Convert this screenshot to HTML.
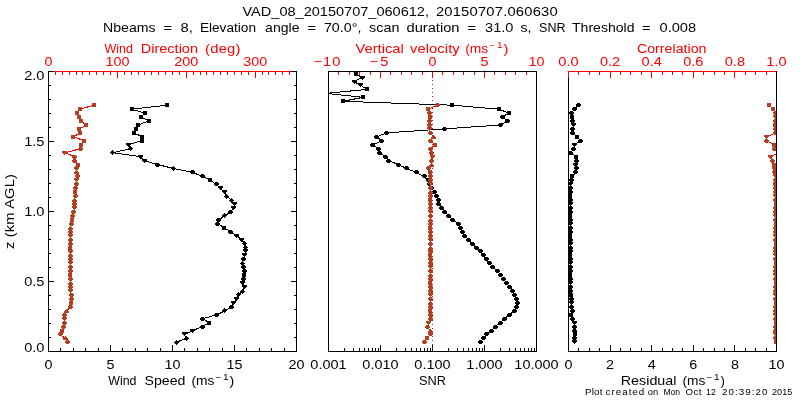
<!DOCTYPE html>
<html><head><meta charset="utf-8"><title>VAD plot</title>
<style>html,body{margin:0;padding:0;background:#fff}svg{display:block}text{font-family:"Liberation Sans",sans-serif;white-space:pre}</style>
</head><body>
<svg width="800" height="400" viewBox="0 0 800 400" shape-rendering="crispEdges">
<rect width="800" height="400" fill="#fff"/>
<rect x="48" y="71" width="249" height="1" fill="#ff0000"/>
<rect x="48" y="351" width="249" height="1" fill="#000000"/>
<rect x="328" y="71" width="209" height="1" fill="#000000"/>
<rect x="328" y="351" width="209" height="1" fill="#000000"/>
<rect x="568" y="71" width="209" height="1" fill="#ff0000"/>
<rect x="568" y="351" width="209" height="1" fill="#000000"/>
<rect x="48" y="71" width="1" height="4" fill="#ff0000"/><rect x="55" y="71" width="1" height="4" fill="#ff0000"/><rect x="62" y="71" width="1" height="4" fill="#ff0000"/><rect x="69" y="71" width="1" height="4" fill="#ff0000"/><rect x="76" y="71" width="1" height="4" fill="#ff0000"/><rect x="82" y="71" width="1" height="4" fill="#ff0000"/><rect x="89" y="71" width="1" height="4" fill="#ff0000"/><rect x="96" y="71" width="1" height="4" fill="#ff0000"/><rect x="103" y="71" width="1" height="4" fill="#ff0000"/><rect x="110" y="71" width="1" height="4" fill="#ff0000"/><rect x="117" y="71" width="1" height="4" fill="#ff0000"/><rect x="124" y="71" width="1" height="4" fill="#ff0000"/><rect x="131" y="71" width="1" height="4" fill="#ff0000"/><rect x="138" y="71" width="1" height="4" fill="#ff0000"/><rect x="144" y="71" width="1" height="4" fill="#ff0000"/><rect x="151" y="71" width="1" height="4" fill="#ff0000"/><rect x="158" y="71" width="1" height="4" fill="#ff0000"/><rect x="165" y="71" width="1" height="4" fill="#ff0000"/><rect x="172" y="71" width="1" height="4" fill="#ff0000"/><rect x="179" y="71" width="1" height="4" fill="#ff0000"/><rect x="186" y="71" width="1" height="4" fill="#ff0000"/><rect x="193" y="71" width="1" height="4" fill="#ff0000"/><rect x="200" y="71" width="1" height="4" fill="#ff0000"/><rect x="206" y="71" width="1" height="4" fill="#ff0000"/><rect x="213" y="71" width="1" height="4" fill="#ff0000"/><rect x="220" y="71" width="1" height="4" fill="#ff0000"/><rect x="227" y="71" width="1" height="4" fill="#ff0000"/><rect x="234" y="71" width="1" height="4" fill="#ff0000"/><rect x="241" y="71" width="1" height="4" fill="#ff0000"/><rect x="248" y="71" width="1" height="4" fill="#ff0000"/><rect x="255" y="71" width="1" height="4" fill="#ff0000"/><rect x="262" y="71" width="1" height="4" fill="#ff0000"/><rect x="268" y="71" width="1" height="4" fill="#ff0000"/><rect x="275" y="71" width="1" height="4" fill="#ff0000"/><rect x="282" y="71" width="1" height="4" fill="#ff0000"/><rect x="289" y="71" width="1" height="4" fill="#ff0000"/><rect x="296" y="71" width="1" height="4" fill="#ff0000"/><rect x="48" y="71" width="1" height="7" fill="#ff0000"/><rect x="117" y="71" width="1" height="7" fill="#ff0000"/><rect x="186" y="71" width="1" height="7" fill="#ff0000"/><rect x="255" y="71" width="1" height="7" fill="#ff0000"/>
<rect x="328" y="71" width="1" height="4" fill="#ff0000"/><rect x="338" y="71" width="1" height="4" fill="#ff0000"/><rect x="349" y="71" width="1" height="4" fill="#ff0000"/><rect x="359" y="71" width="1" height="4" fill="#ff0000"/><rect x="370" y="71" width="1" height="4" fill="#ff0000"/><rect x="380" y="71" width="1" height="4" fill="#ff0000"/><rect x="390" y="71" width="1" height="4" fill="#ff0000"/><rect x="401" y="71" width="1" height="4" fill="#ff0000"/><rect x="411" y="71" width="1" height="4" fill="#ff0000"/><rect x="422" y="71" width="1" height="4" fill="#ff0000"/><rect x="432" y="71" width="1" height="4" fill="#ff0000"/><rect x="442" y="71" width="1" height="4" fill="#ff0000"/><rect x="453" y="71" width="1" height="4" fill="#ff0000"/><rect x="463" y="71" width="1" height="4" fill="#ff0000"/><rect x="474" y="71" width="1" height="4" fill="#ff0000"/><rect x="484" y="71" width="1" height="4" fill="#ff0000"/><rect x="494" y="71" width="1" height="4" fill="#ff0000"/><rect x="505" y="71" width="1" height="4" fill="#ff0000"/><rect x="515" y="71" width="1" height="4" fill="#ff0000"/><rect x="526" y="71" width="1" height="4" fill="#ff0000"/><rect x="536" y="71" width="1" height="4" fill="#ff0000"/><rect x="328" y="71" width="1" height="7" fill="#ff0000"/><rect x="380" y="71" width="1" height="7" fill="#ff0000"/><rect x="432" y="71" width="1" height="7" fill="#ff0000"/><rect x="484" y="71" width="1" height="7" fill="#ff0000"/><rect x="536" y="71" width="1" height="7" fill="#ff0000"/>
<rect x="568" y="71" width="1" height="4" fill="#ff0000"/><rect x="578" y="71" width="1" height="4" fill="#ff0000"/><rect x="589" y="71" width="1" height="4" fill="#ff0000"/><rect x="599" y="71" width="1" height="4" fill="#ff0000"/><rect x="610" y="71" width="1" height="4" fill="#ff0000"/><rect x="620" y="71" width="1" height="4" fill="#ff0000"/><rect x="630" y="71" width="1" height="4" fill="#ff0000"/><rect x="641" y="71" width="1" height="4" fill="#ff0000"/><rect x="651" y="71" width="1" height="4" fill="#ff0000"/><rect x="662" y="71" width="1" height="4" fill="#ff0000"/><rect x="672" y="71" width="1" height="4" fill="#ff0000"/><rect x="682" y="71" width="1" height="4" fill="#ff0000"/><rect x="693" y="71" width="1" height="4" fill="#ff0000"/><rect x="703" y="71" width="1" height="4" fill="#ff0000"/><rect x="714" y="71" width="1" height="4" fill="#ff0000"/><rect x="724" y="71" width="1" height="4" fill="#ff0000"/><rect x="734" y="71" width="1" height="4" fill="#ff0000"/><rect x="745" y="71" width="1" height="4" fill="#ff0000"/><rect x="755" y="71" width="1" height="4" fill="#ff0000"/><rect x="766" y="71" width="1" height="4" fill="#ff0000"/><rect x="776" y="71" width="1" height="4" fill="#ff0000"/><rect x="568" y="71" width="1" height="7" fill="#ff0000"/><rect x="610" y="71" width="1" height="7" fill="#ff0000"/><rect x="651" y="71" width="1" height="7" fill="#ff0000"/><rect x="693" y="71" width="1" height="7" fill="#ff0000"/><rect x="734" y="71" width="1" height="7" fill="#ff0000"/><rect x="776" y="71" width="1" height="7" fill="#ff0000"/>
<rect x="48" y="348" width="1" height="4" fill="#000000"/><rect x="60" y="348" width="1" height="4" fill="#000000"/><rect x="73" y="348" width="1" height="4" fill="#000000"/><rect x="85" y="348" width="1" height="4" fill="#000000"/><rect x="98" y="348" width="1" height="4" fill="#000000"/><rect x="110" y="348" width="1" height="4" fill="#000000"/><rect x="122" y="348" width="1" height="4" fill="#000000"/><rect x="135" y="348" width="1" height="4" fill="#000000"/><rect x="147" y="348" width="1" height="4" fill="#000000"/><rect x="160" y="348" width="1" height="4" fill="#000000"/><rect x="172" y="348" width="1" height="4" fill="#000000"/><rect x="184" y="348" width="1" height="4" fill="#000000"/><rect x="197" y="348" width="1" height="4" fill="#000000"/><rect x="209" y="348" width="1" height="4" fill="#000000"/><rect x="222" y="348" width="1" height="4" fill="#000000"/><rect x="234" y="348" width="1" height="4" fill="#000000"/><rect x="246" y="348" width="1" height="4" fill="#000000"/><rect x="259" y="348" width="1" height="4" fill="#000000"/><rect x="271" y="348" width="1" height="4" fill="#000000"/><rect x="284" y="348" width="1" height="4" fill="#000000"/><rect x="296" y="348" width="1" height="4" fill="#000000"/><rect x="48" y="345" width="1" height="7" fill="#000000"/><rect x="110" y="345" width="1" height="7" fill="#000000"/><rect x="172" y="345" width="1" height="7" fill="#000000"/><rect x="234" y="345" width="1" height="7" fill="#000000"/><rect x="296" y="345" width="1" height="7" fill="#000000"/>
<rect x="344" y="348" width="1" height="4" fill="#000000"/><rect x="353" y="348" width="1" height="4" fill="#000000"/><rect x="359" y="348" width="1" height="4" fill="#000000"/><rect x="364" y="348" width="1" height="4" fill="#000000"/><rect x="368" y="348" width="1" height="4" fill="#000000"/><rect x="372" y="348" width="1" height="4" fill="#000000"/><rect x="375" y="348" width="1" height="4" fill="#000000"/><rect x="378" y="348" width="1" height="4" fill="#000000"/><rect x="396" y="348" width="1" height="4" fill="#000000"/><rect x="405" y="348" width="1" height="4" fill="#000000"/><rect x="411" y="348" width="1" height="4" fill="#000000"/><rect x="416" y="348" width="1" height="4" fill="#000000"/><rect x="420" y="348" width="1" height="4" fill="#000000"/><rect x="424" y="348" width="1" height="4" fill="#000000"/><rect x="427" y="348" width="1" height="4" fill="#000000"/><rect x="430" y="348" width="1" height="4" fill="#000000"/><rect x="448" y="348" width="1" height="4" fill="#000000"/><rect x="457" y="348" width="1" height="4" fill="#000000"/><rect x="463" y="348" width="1" height="4" fill="#000000"/><rect x="468" y="348" width="1" height="4" fill="#000000"/><rect x="472" y="348" width="1" height="4" fill="#000000"/><rect x="476" y="348" width="1" height="4" fill="#000000"/><rect x="479" y="348" width="1" height="4" fill="#000000"/><rect x="482" y="348" width="1" height="4" fill="#000000"/><rect x="500" y="348" width="1" height="4" fill="#000000"/><rect x="509" y="348" width="1" height="4" fill="#000000"/><rect x="515" y="348" width="1" height="4" fill="#000000"/><rect x="520" y="348" width="1" height="4" fill="#000000"/><rect x="524" y="348" width="1" height="4" fill="#000000"/><rect x="528" y="348" width="1" height="4" fill="#000000"/><rect x="531" y="348" width="1" height="4" fill="#000000"/><rect x="534" y="348" width="1" height="4" fill="#000000"/><rect x="328" y="345" width="1" height="7" fill="#000000"/><rect x="380" y="345" width="1" height="7" fill="#000000"/><rect x="432" y="345" width="1" height="7" fill="#000000"/><rect x="484" y="345" width="1" height="7" fill="#000000"/><rect x="536" y="345" width="1" height="7" fill="#000000"/>
<rect x="568" y="348" width="1" height="4" fill="#000000"/><rect x="578" y="348" width="1" height="4" fill="#000000"/><rect x="589" y="348" width="1" height="4" fill="#000000"/><rect x="599" y="348" width="1" height="4" fill="#000000"/><rect x="610" y="348" width="1" height="4" fill="#000000"/><rect x="620" y="348" width="1" height="4" fill="#000000"/><rect x="630" y="348" width="1" height="4" fill="#000000"/><rect x="641" y="348" width="1" height="4" fill="#000000"/><rect x="651" y="348" width="1" height="4" fill="#000000"/><rect x="662" y="348" width="1" height="4" fill="#000000"/><rect x="672" y="348" width="1" height="4" fill="#000000"/><rect x="682" y="348" width="1" height="4" fill="#000000"/><rect x="693" y="348" width="1" height="4" fill="#000000"/><rect x="703" y="348" width="1" height="4" fill="#000000"/><rect x="714" y="348" width="1" height="4" fill="#000000"/><rect x="724" y="348" width="1" height="4" fill="#000000"/><rect x="734" y="348" width="1" height="4" fill="#000000"/><rect x="745" y="348" width="1" height="4" fill="#000000"/><rect x="755" y="348" width="1" height="4" fill="#000000"/><rect x="766" y="348" width="1" height="4" fill="#000000"/><rect x="776" y="348" width="1" height="4" fill="#000000"/><rect x="568" y="345" width="1" height="7" fill="#000000"/><rect x="610" y="345" width="1" height="7" fill="#000000"/><rect x="651" y="345" width="1" height="7" fill="#000000"/><rect x="693" y="345" width="1" height="7" fill="#000000"/><rect x="734" y="345" width="1" height="7" fill="#000000"/><rect x="776" y="345" width="1" height="7" fill="#000000"/>
<rect x="48" y="71" width="1" height="281" fill="#000000"/>
<rect x="296" y="71" width="1" height="281" fill="#000000"/>
<rect x="328" y="71" width="1" height="281" fill="#000000"/>
<rect x="536" y="71" width="1" height="281" fill="#000000"/>
<rect x="568" y="71" width="1" height="281" fill="#000000"/>
<rect x="776" y="71" width="1" height="281" fill="#000000"/>
<rect x="328" y="71" width="209" height="1" fill="#000000"/>
<rect x="568" y="71" width="1" height="7" fill="#ff0000"/>
<rect x="48" y="351" width="6" height="1" fill="#000000"/>
<rect x="291" y="351" width="6" height="1" fill="#000000"/>
<rect x="48" y="337" width="3" height="1" fill="#000000"/>
<rect x="294" y="337" width="3" height="1" fill="#000000"/>
<rect x="48" y="323" width="3" height="1" fill="#000000"/>
<rect x="294" y="323" width="3" height="1" fill="#000000"/>
<rect x="48" y="309" width="3" height="1" fill="#000000"/>
<rect x="294" y="309" width="3" height="1" fill="#000000"/>
<rect x="48" y="295" width="3" height="1" fill="#000000"/>
<rect x="294" y="295" width="3" height="1" fill="#000000"/>
<rect x="48" y="281" width="6" height="1" fill="#000000"/>
<rect x="291" y="281" width="6" height="1" fill="#000000"/>
<rect x="48" y="267" width="3" height="1" fill="#000000"/>
<rect x="294" y="267" width="3" height="1" fill="#000000"/>
<rect x="48" y="253" width="3" height="1" fill="#000000"/>
<rect x="294" y="253" width="3" height="1" fill="#000000"/>
<rect x="48" y="239" width="3" height="1" fill="#000000"/>
<rect x="294" y="239" width="3" height="1" fill="#000000"/>
<rect x="48" y="225" width="3" height="1" fill="#000000"/>
<rect x="294" y="225" width="3" height="1" fill="#000000"/>
<rect x="48" y="211" width="6" height="1" fill="#000000"/>
<rect x="291" y="211" width="6" height="1" fill="#000000"/>
<rect x="48" y="197" width="3" height="1" fill="#000000"/>
<rect x="294" y="197" width="3" height="1" fill="#000000"/>
<rect x="48" y="183" width="3" height="1" fill="#000000"/>
<rect x="294" y="183" width="3" height="1" fill="#000000"/>
<rect x="48" y="169" width="3" height="1" fill="#000000"/>
<rect x="294" y="169" width="3" height="1" fill="#000000"/>
<rect x="48" y="155" width="3" height="1" fill="#000000"/>
<rect x="294" y="155" width="3" height="1" fill="#000000"/>
<rect x="48" y="141" width="6" height="1" fill="#000000"/>
<rect x="291" y="141" width="6" height="1" fill="#000000"/>
<rect x="48" y="127" width="3" height="1" fill="#000000"/>
<rect x="294" y="127" width="3" height="1" fill="#000000"/>
<rect x="48" y="113" width="3" height="1" fill="#000000"/>
<rect x="294" y="113" width="3" height="1" fill="#000000"/>
<rect x="48" y="99" width="3" height="1" fill="#000000"/>
<rect x="294" y="99" width="3" height="1" fill="#000000"/>
<rect x="48" y="85" width="3" height="1" fill="#000000"/>
<rect x="294" y="85" width="3" height="1" fill="#000000"/>
<rect x="48" y="71" width="6" height="1" fill="#000000"/>
<rect x="291" y="71" width="6" height="1" fill="#000000"/>
<defs><clipPath id="c2"><rect x="328" y="71" width="209" height="281"/></clipPath><clipPath id="c3"><rect x="568" y="71" width="209" height="281"/></clipPath></defs>
<polyline points="94.0,105.2 79.6,109.2 77.2,113.1 79.0,117.1 80.6,121.0 86.4,125.0 79.4,128.9 80.0,132.9 73.4,136.8 84.4,140.8 80.6,144.7 80.6,148.7 65.0,152.7 74.4,156.6 74.4,160.6 78.0,164.5 76.0,168.5 76.9,172.4 77.3,176.4 76.8,180.3 76.3,184.3 75.7,188.2 75.4,192.2 75.1,196.1 74.8,200.1 74.6,204.0 74.2,208.0 73.8,212.0 72.9,215.9 72.0,219.9 71.2,223.8 70.5,227.8 70.2,231.7 70.0,235.7 70.3,239.6 70.5,243.6 70.5,247.5 70.5,251.5 70.5,255.4 70.5,259.4 70.2,263.3 70.0,267.3 70.2,271.2 70.3,275.2 70.5,279.2 70.6,283.1 70.8,287.1 70.9,291.0 71.1,295.0 71.4,298.9 71.2,302.9 70.5,306.8 67.0,310.8 65.0,314.7 64.0,318.7 64.0,322.6 63.1,326.6 62.0,330.5 60.0,334.5 65.5,338.4 67.5,342.4" fill="none" stroke="#ff0000" stroke-width="1"/>
<path d="M92 103h4v1h-4zM92 104h4v1h-4zM92 105h4v1h-4zM92 106h4v1h-4zM78 107h4v1h-4zM78 108h4v1h-4zM78 109h4v1h-4zM78 110h4v1h-4zM75 111h4v1h-4zM75 112h4v1h-4zM75 113h4v1h-4zM75 114h4v1h-4zM77 115h4v1h-4zM77 116h4v1h-4zM77 117h4v1h-4zM77 118h4v1h-4zM79 119h4v1h-4zM79 120h4v1h-4zM79 121h4v1h-4zM79 122h4v1h-4zM84 123h4v1h-4zM84 124h4v1h-4zM84 125h4v1h-4zM84 126h4v1h-4zM77 127h4v1h-4zM77 128h4v1h-4zM77 129h4v1h-4zM77 130h4v1h-4zM78 131h4v1h-4zM78 132h4v1h-4zM78 133h4v1h-4zM78 134h4v1h-4zM71 135h4v1h-4zM71 136h4v1h-4zM71 137h4v1h-4zM71 138h4v1h-4zM82 139h4v1h-4zM82 140h4v1h-4zM82 141h4v1h-4zM82 142h4v1h-4zM79 143h4v1h-4zM79 144h4v1h-4zM79 145h4v1h-4zM79 146h4v1h-4zM79 147h3v1h-3zM78 148h5v1h-5zM78 149h5v1h-5zM79 150h3v1h-3zM62 151h5v1h-5zM62 152h5v1h-5zM63 153h3v1h-3zM64 154h1v1h-1zM73 155h3v1h-3zM72 156h5v1h-5zM72 157h5v1h-5zM73 158h3v1h-3zM73 159h3v1h-3zM72 160h5v1h-5zM72 161h5v1h-5zM73 162h3v1h-3zM76 163h4v1h-4zM76 164h4v1h-4zM76 165h4v1h-4zM76 166h4v1h-4zM75 166h3v1h-3zM74 167h5v1h-5zM74 168h5v1h-5zM75 169h3v1h-3zM76 170h1v1h-1zM75 171h3v1h-3zM74 172h5v1h-5zM74 173h5v1h-5zM76 174h3v1h-3zM75 175h5v1h-5zM75 176h5v1h-5zM76 177h3v1h-3zM74 178h5v1h-5zM74 179h5v1h-5zM75 180h3v1h-3zM76 181h1v1h-1zM75 182h3v1h-3zM74 183h5v1h-5zM74 184h5v1h-5zM75 185h3v1h-3zM74 186h3v1h-3zM73 187h5v1h-5zM73 188h5v1h-5zM74 189h3v1h-3zM73 190h4v1h-4zM73 191h4v1h-4zM73 192h4v1h-4zM73 193h4v1h-4zM74 194h3v1h-3zM73 195h5v1h-5zM73 196h5v1h-5zM74 197h3v1h-3zM74 198h1v1h-1zM73 199h3v1h-3zM72 200h5v1h-5zM72 201h5v1h-5zM73 202h3v1h-3zM72 203h5v1h-5zM72 204h5v1h-5zM73 205h3v1h-3zM72 206h5v1h-5zM72 207h5v1h-5zM73 208h3v1h-3zM74 209h1v1h-1zM72 210h3v1h-3zM71 211h5v1h-5zM71 212h5v1h-5zM72 213h3v1h-3zM71 214h3v1h-3zM70 215h5v1h-5zM70 216h5v1h-5zM71 217h3v1h-3zM70 218h4v1h-4zM70 219h4v1h-4zM70 220h4v1h-4zM70 221h4v1h-4zM70 222h3v1h-3zM69 223h5v1h-5zM69 224h5v1h-5zM70 225h3v1h-3zM70 226h1v1h-1zM69 227h3v1h-3zM68 228h5v1h-5zM68 229h5v1h-5zM69 230h3v1h-3zM68 231h5v1h-5zM68 232h5v1h-5zM69 233h3v1h-3zM68 234h5v1h-5zM68 235h5v1h-5zM69 236h3v1h-3zM70 237h1v1h-1zM69 238h3v1h-3zM68 239h5v1h-5zM68 240h5v1h-5zM69 241h3v1h-3zM69 242h3v1h-3zM68 243h5v1h-5zM68 244h5v1h-5zM69 245h3v1h-3zM68 246h4v1h-4zM68 247h4v1h-4zM68 248h4v1h-4zM68 249h4v1h-4zM69 249h3v1h-3zM68 250h5v1h-5zM68 251h5v1h-5zM69 252h3v1h-3zM70 253h1v1h-1zM69 254h3v1h-3zM68 255h5v1h-5zM68 256h5v1h-5zM69 257h3v1h-3zM68 258h5v1h-5zM68 259h5v1h-5zM69 260h3v1h-3zM68 261h5v1h-5zM68 262h5v1h-5zM69 263h3v1h-3zM70 264h1v1h-1zM69 265h3v1h-3zM68 266h5v1h-5zM68 267h5v1h-5zM69 268h3v1h-3zM69 269h3v1h-3zM68 270h5v1h-5zM68 271h5v1h-5zM69 272h3v1h-3zM68 273h4v1h-4zM68 274h4v1h-4zM68 275h4v1h-4zM68 276h4v1h-4zM69 277h3v1h-3zM68 278h5v1h-5zM68 279h5v1h-5zM69 280h3v1h-3zM70 281h1v1h-1zM69 282h3v1h-3zM68 283h5v1h-5zM68 284h5v1h-5zM69 285h3v1h-3zM68 286h5v1h-5zM68 287h5v1h-5zM69 288h3v1h-3zM68 289h5v1h-5zM68 290h5v1h-5zM69 291h3v1h-3zM70 292h1v1h-1zM70 293h3v1h-3zM69 294h5v1h-5zM69 295h5v1h-5zM70 296h3v1h-3zM70 297h3v1h-3zM69 298h5v1h-5zM69 299h5v1h-5zM70 300h3v1h-3zM69 301h4v1h-4zM69 302h4v1h-4zM69 303h4v1h-4zM69 304h4v1h-4zM69 305h3v1h-3zM68 306h5v1h-5zM68 307h5v1h-5zM69 308h3v1h-3zM66 309h1v1h-1zM65 310h3v1h-3zM64 311h5v1h-5zM64 312h5v1h-5zM63 313h3v1h-3zM62 314h5v1h-5zM62 315h5v1h-5zM63 316h3v1h-3zM62 317h5v1h-5zM62 318h5v1h-5zM63 319h3v1h-3zM64 320h1v1h-1zM63 321h3v1h-3zM62 322h5v1h-5zM62 323h5v1h-5zM63 324h3v1h-3zM62 325h3v1h-3zM61 326h5v1h-5zM61 327h5v1h-5zM62 328h3v1h-3zM60 329h4v1h-4zM60 330h4v1h-4zM60 331h4v1h-4zM60 332h4v1h-4zM59 332h3v1h-3zM58 333h5v1h-5zM58 334h5v1h-5zM59 335h3v1h-3zM65 336h1v1h-1zM64 337h3v1h-3zM63 338h5v1h-5zM63 339h5v1h-5zM66 340h3v1h-3zM65 341h5v1h-5zM65 342h5v1h-5zM66 343h3v1h-3z" fill="#b04020"/>
<polyline points="166.8,105.2 131.6,109.2 144.8,113.1 141.2,117.1 148.6,121.0 138.0,125.0 136.0,128.9 134.0,132.9 142.4,136.8 141.6,140.8 128.0,144.7 131.0,148.7 112.4,152.7 140.0,156.6 144.4,160.6 157.4,164.5 173.4,168.5 192.4,172.4 202.6,176.4 210.4,180.3 216.0,184.3 220.0,188.2 224.0,192.2 227.0,196.1 231.4,200.1 235.0,204.0 233.4,208.0 231.0,212.0 224.0,215.9 219.0,219.9 217.8,223.8 224.5,227.8 230.4,231.7 237.0,235.7 241.6,239.6 244.4,243.6 245.6,247.5 245.6,251.5 244.4,255.4 243.6,259.4 242.4,263.3 243.6,267.3 244.4,271.2 244.4,275.2 243.6,279.2 243.0,283.1 244.0,287.1 242.4,291.0 238.3,295.0 236.6,298.9 233.6,302.9 231.4,306.8 225.0,310.8 217.0,314.7 203.0,318.7 209.0,322.6 202.4,326.6 193.0,330.5 184.4,334.5 186.0,338.4 176.0,342.4" fill="none" stroke="#000000" stroke-width="1"/>
<path d="M165 103h4v1h-4zM165 104h4v1h-4zM165 105h4v1h-4zM165 106h4v1h-4zM130 107h4v1h-4zM130 108h4v1h-4zM130 109h4v1h-4zM130 110h4v1h-4zM143 111h4v1h-4zM143 112h4v1h-4zM143 113h4v1h-4zM143 114h4v1h-4zM139 115h4v1h-4zM139 116h4v1h-4zM139 117h4v1h-4zM139 118h4v1h-4zM147 119h4v1h-4zM147 120h4v1h-4zM147 121h4v1h-4zM147 122h4v1h-4zM136 123h4v1h-4zM136 124h4v1h-4zM136 125h4v1h-4zM136 126h4v1h-4zM134 127h4v1h-4zM134 128h4v1h-4zM134 129h4v1h-4zM134 130h4v1h-4zM132 131h4v1h-4zM132 132h4v1h-4zM132 133h4v1h-4zM132 134h4v1h-4zM140 135h4v1h-4zM140 136h4v1h-4zM140 137h4v1h-4zM140 138h4v1h-4zM140 139h4v1h-4zM140 140h4v1h-4zM140 141h4v1h-4zM140 142h4v1h-4zM126 143h5v1h-5zM126 144h5v1h-5zM127 145h3v1h-3zM128 146h1v1h-1zM130 146h1v1h-1zM129 147h3v1h-3zM128 148h5v1h-5zM129 149h3v1h-3zM130 150h1v1h-1zM112 150h1v1h-1zM111 151h3v1h-3zM110 152h5v1h-5zM111 153h3v1h-3zM112 154h1v1h-1zM138 155h5v1h-5zM138 156h5v1h-5zM139 157h3v1h-3zM140 158h1v1h-1zM142 159h5v1h-5zM142 160h5v1h-5zM143 161h3v1h-3zM144 162h1v1h-1zM156 163h3v1h-3zM155 164h5v1h-5zM155 165h5v1h-5zM156 166h3v1h-3zM173 166h1v1h-1zM172 167h3v1h-3zM171 168h5v1h-5zM172 169h3v1h-3zM173 170h1v1h-1zM191 170h3v1h-3zM190 171h5v1h-5zM190 172h5v1h-5zM191 173h3v1h-3zM201 174h3v1h-3zM200 175h5v1h-5zM200 176h5v1h-5zM201 177h3v1h-3zM208 178h4v1h-4zM208 179h4v1h-4zM208 180h4v1h-4zM208 181h4v1h-4zM215 182h3v1h-3zM214 183h5v1h-5zM214 184h5v1h-5zM215 185h3v1h-3zM218 186h5v1h-5zM218 187h5v1h-5zM219 188h3v1h-3zM220 189h1v1h-1zM222 190h5v1h-5zM222 191h5v1h-5zM223 192h3v1h-3zM224 193h1v1h-1zM226 194h1v1h-1zM225 195h3v1h-3zM224 196h5v1h-5zM225 197h3v1h-3zM226 198h1v1h-1zM231 198h1v1h-1zM230 199h3v1h-3zM229 200h5v1h-5zM230 201h3v1h-3zM231 202h1v1h-1zM232 202h5v1h-5zM232 203h5v1h-5zM233 204h3v1h-3zM234 205h1v1h-1zM231 206h5v1h-5zM231 207h5v1h-5zM232 208h3v1h-3zM233 209h1v1h-1zM229 210h3v1h-3zM228 211h5v1h-5zM228 212h5v1h-5zM229 213h3v1h-3zM224 213h1v1h-1zM223 214h3v1h-3zM222 215h5v1h-5zM223 216h3v1h-3zM224 217h1v1h-1zM217 218h3v1h-3zM216 219h5v1h-5zM216 220h5v1h-5zM217 221h3v1h-3zM216 222h3v1h-3zM215 223h5v1h-5zM215 224h5v1h-5zM216 225h3v1h-3zM222 226h4v1h-4zM222 227h4v1h-4zM222 228h4v1h-4zM222 229h4v1h-4zM229 230h3v1h-3zM228 231h5v1h-5zM228 232h5v1h-5zM229 233h3v1h-3zM234 234h5v1h-5zM234 235h5v1h-5zM235 236h3v1h-3zM236 237h1v1h-1zM239 238h5v1h-5zM239 239h5v1h-5zM240 240h3v1h-3zM241 241h1v1h-1zM244 241h1v1h-1zM243 242h3v1h-3zM242 243h5v1h-5zM243 244h3v1h-3zM244 245h1v1h-1zM245 245h1v1h-1zM244 246h3v1h-3zM243 247h5v1h-5zM244 248h3v1h-3zM245 249h1v1h-1zM243 249h5v1h-5zM243 250h5v1h-5zM244 251h3v1h-3zM245 252h1v1h-1zM242 253h5v1h-5zM242 254h5v1h-5zM243 255h3v1h-3zM244 256h1v1h-1zM242 257h3v1h-3zM241 258h5v1h-5zM241 259h5v1h-5zM242 260h3v1h-3zM242 261h1v1h-1zM241 262h3v1h-3zM240 263h5v1h-5zM241 264h3v1h-3zM242 265h1v1h-1zM242 265h3v1h-3zM241 266h5v1h-5zM241 267h5v1h-5zM242 268h3v1h-3zM243 269h3v1h-3zM242 270h5v1h-5zM242 271h5v1h-5zM243 272h3v1h-3zM242 273h4v1h-4zM242 274h4v1h-4zM242 275h4v1h-4zM242 276h4v1h-4zM242 277h3v1h-3zM241 278h5v1h-5zM241 279h5v1h-5zM242 280h3v1h-3zM240 281h5v1h-5zM240 282h5v1h-5zM241 283h3v1h-3zM242 284h1v1h-1zM242 285h5v1h-5zM242 286h5v1h-5zM243 287h3v1h-3zM244 288h1v1h-1zM242 289h1v1h-1zM241 290h3v1h-3zM240 291h5v1h-5zM241 292h3v1h-3zM242 293h1v1h-1zM238 292h1v1h-1zM237 293h3v1h-3zM236 294h5v1h-5zM237 295h3v1h-3zM238 296h1v1h-1zM234 297h5v1h-5zM234 298h5v1h-5zM235 299h3v1h-3zM236 300h1v1h-1zM231 301h5v1h-5zM231 302h5v1h-5zM232 303h3v1h-3zM233 304h1v1h-1zM230 305h3v1h-3zM229 306h5v1h-5zM229 307h5v1h-5zM230 308h3v1h-3zM224 308h1v1h-1zM223 309h3v1h-3zM222 310h5v1h-5zM223 311h3v1h-3zM224 312h1v1h-1zM215 313h3v1h-3zM214 314h5v1h-5zM214 315h5v1h-5zM215 316h3v1h-3zM201 317h3v1h-3zM200 318h5v1h-5zM200 319h5v1h-5zM201 320h3v1h-3zM207 321h4v1h-4zM207 322h4v1h-4zM207 323h4v1h-4zM207 324h4v1h-4zM201 325h3v1h-3zM200 326h5v1h-5zM200 327h5v1h-5zM201 328h3v1h-3zM190 329h5v1h-5zM190 330h5v1h-5zM191 331h3v1h-3zM192 332h1v1h-1zM182 332h5v1h-5zM182 333h5v1h-5zM183 334h3v1h-3zM184 335h1v1h-1zM186 336h1v1h-1zM185 337h3v1h-3zM184 338h5v1h-5zM185 339h3v1h-3zM186 340h1v1h-1zM176 340h1v1h-1zM175 341h3v1h-3zM174 342h5v1h-5zM175 343h3v1h-3zM176 344h1v1h-1z" fill="#000000"/>
<path d="M432 72h1v1h-1zM432 76h1v1h-1zM432 80h1v1h-1zM432 84h1v1h-1zM432 88h1v1h-1zM432 92h1v1h-1zM432 96h1v1h-1zM432 100h1v1h-1zM432 104h1v1h-1zM432 108h1v1h-1zM432 112h1v1h-1zM432 116h1v1h-1zM432 120h1v1h-1zM432 124h1v1h-1zM432 128h1v1h-1zM432 132h1v1h-1zM432 136h1v1h-1zM432 140h1v1h-1zM432 144h1v1h-1zM432 148h1v1h-1zM432 152h1v1h-1zM432 156h1v1h-1zM432 160h1v1h-1zM432 164h1v1h-1zM432 168h1v1h-1zM432 172h1v1h-1zM432 176h1v1h-1zM432 180h1v1h-1zM432 184h1v1h-1zM432 188h1v1h-1zM432 192h1v1h-1zM432 196h1v1h-1zM432 200h1v1h-1zM432 204h1v1h-1zM432 208h1v1h-1zM432 212h1v1h-1zM432 216h1v1h-1zM432 220h1v1h-1zM432 224h1v1h-1zM432 228h1v1h-1zM432 232h1v1h-1zM432 236h1v1h-1zM432 240h1v1h-1zM432 244h1v1h-1zM432 248h1v1h-1zM432 252h1v1h-1zM432 256h1v1h-1zM432 260h1v1h-1zM432 264h1v1h-1zM432 268h1v1h-1zM432 272h1v1h-1zM432 276h1v1h-1zM432 280h1v1h-1zM432 284h1v1h-1zM432 288h1v1h-1zM432 292h1v1h-1zM432 296h1v1h-1zM432 300h1v1h-1zM432 304h1v1h-1zM432 308h1v1h-1zM432 312h1v1h-1zM432 316h1v1h-1zM432 320h1v1h-1zM432 324h1v1h-1zM432 328h1v1h-1zM432 332h1v1h-1zM432 336h1v1h-1zM432 340h1v1h-1zM432 344h1v1h-1zM432 348h1v1h-1z" fill="#ff0000"/>
<polyline points="355.6,73.6 362.0,77.5 354.0,81.5 361.0,85.5 367.0,89.4 326.0,93.4 363.0,97.3 343.0,101.3 452.0,105.2 499.0,109.2 508.6,113.1 502.4,117.1 507.6,121.0 500.6,125.0 444.0,128.9 386.4,132.9 377.0,136.8 381.6,140.8 373.0,144.7 378.0,148.7 379.6,152.7 385.6,156.6 389.0,160.6 398.0,164.5 406.6,168.5 416.0,172.4 424.0,176.4 428.0,180.3 429.5,184.3 431.5,188.2 434.4,192.2 437.0,196.1 438.0,200.1 439.0,204.0 441.6,208.0 445.0,212.0 448.4,215.9 453.0,219.9 458.0,223.8 461.0,227.8 463.0,231.7 465.0,235.7 468.0,239.6 472.0,243.6 476.0,247.5 480.0,251.5 483.6,255.4 486.4,259.4 489.6,263.3 493.0,267.3 497.9,271.2 500.8,275.2 503.7,279.2 506.6,283.1 509.7,287.1 513.0,291.0 515.0,295.0 516.6,298.9 517.5,302.9 517.0,306.8 515.0,310.8 509.0,314.7 505.0,318.7 500.0,322.6 495.5,326.6 491.2,330.5 487.0,334.5 483.0,338.4 480.0,342.4" fill="none" stroke="#000000" stroke-width="1" clip-path="url(#c2)"/>
<g clip-path="url(#c2)"><path d="M354 72h4v1h-4zM354 73h4v1h-4zM354 74h4v1h-4zM354 75h4v1h-4zM360 76h5v1h-5zM360 77h5v1h-5zM361 78h3v1h-3zM362 79h1v1h-1zM352 80h5v1h-5zM352 81h5v1h-5zM353 82h3v1h-3zM354 83h1v1h-1zM358 83h5v1h-5zM358 84h5v1h-5zM359 85h3v1h-3zM360 86h1v1h-1zM365 87h4v1h-4zM365 88h4v1h-4zM365 89h4v1h-4zM365 90h4v1h-4zM324 91h4v1h-4zM324 92h4v1h-4zM324 93h4v1h-4zM324 94h4v1h-4zM361 95h4v1h-4zM361 96h4v1h-4zM361 97h4v1h-4zM361 98h4v1h-4zM341 99h4v1h-4zM341 100h4v1h-4zM341 101h4v1h-4zM341 102h4v1h-4zM450 103h4v1h-4zM450 104h4v1h-4zM450 105h4v1h-4zM450 106h4v1h-4zM497 107h4v1h-4zM497 108h4v1h-4zM497 109h4v1h-4zM497 110h4v1h-4zM507 111h4v1h-4zM507 112h4v1h-4zM507 113h4v1h-4zM507 114h4v1h-4zM501 115h3v1h-3zM500 116h5v1h-5zM500 117h5v1h-5zM501 118h3v1h-3zM506 119h3v1h-3zM505 120h5v1h-5zM505 121h5v1h-5zM506 122h3v1h-3zM499 123h3v1h-3zM498 124h5v1h-5zM498 125h5v1h-5zM499 126h3v1h-3zM443 127h3v1h-3zM442 128h5v1h-5zM442 129h5v1h-5zM443 130h3v1h-3zM385 131h3v1h-3zM384 132h5v1h-5zM384 133h5v1h-5zM385 134h3v1h-3zM375 135h3v1h-3zM374 136h5v1h-5zM374 137h5v1h-5zM375 138h3v1h-3zM380 139h3v1h-3zM379 140h5v1h-5zM379 141h5v1h-5zM380 142h3v1h-3zM371 143h3v1h-3zM370 144h5v1h-5zM370 145h5v1h-5zM371 146h3v1h-3zM377 147h3v1h-3zM376 148h5v1h-5zM376 149h5v1h-5zM377 150h3v1h-3zM378 151h3v1h-3zM377 152h5v1h-5zM377 153h5v1h-5zM378 154h3v1h-3zM384 155h3v1h-3zM383 156h5v1h-5zM383 157h5v1h-5zM384 158h3v1h-3zM387 159h3v1h-3zM386 160h5v1h-5zM386 161h5v1h-5zM387 162h3v1h-3zM397 163h3v1h-3zM396 164h5v1h-5zM396 165h5v1h-5zM397 166h3v1h-3zM405 166h3v1h-3zM404 167h5v1h-5zM404 168h5v1h-5zM405 169h3v1h-3zM415 170h3v1h-3zM414 171h5v1h-5zM414 172h5v1h-5zM415 173h3v1h-3zM423 174h3v1h-3zM422 175h5v1h-5zM422 176h5v1h-5zM423 177h3v1h-3zM427 178h3v1h-3zM426 179h5v1h-5zM426 180h5v1h-5zM427 181h3v1h-3zM428 182h3v1h-3zM427 183h5v1h-5zM427 184h5v1h-5zM428 185h3v1h-3zM430 186h3v1h-3zM429 187h5v1h-5zM429 188h5v1h-5zM430 189h3v1h-3zM433 190h3v1h-3zM432 191h5v1h-5zM432 192h5v1h-5zM433 193h3v1h-3zM435 194h3v1h-3zM434 195h5v1h-5zM434 196h5v1h-5zM435 197h3v1h-3zM437 198h3v1h-3zM436 199h5v1h-5zM436 200h5v1h-5zM437 201h3v1h-3zM437 202h3v1h-3zM436 203h5v1h-5zM436 204h5v1h-5zM437 205h3v1h-3zM440 206h3v1h-3zM439 207h5v1h-5zM439 208h5v1h-5zM440 209h3v1h-3zM443 210h3v1h-3zM442 211h5v1h-5zM442 212h5v1h-5zM443 213h3v1h-3zM447 214h3v1h-3zM446 215h5v1h-5zM446 216h5v1h-5zM447 217h3v1h-3zM451 218h3v1h-3zM450 219h5v1h-5zM450 220h5v1h-5zM451 221h3v1h-3zM457 222h3v1h-3zM456 223h5v1h-5zM456 224h5v1h-5zM457 225h3v1h-3zM459 226h3v1h-3zM458 227h5v1h-5zM458 228h5v1h-5zM459 229h3v1h-3zM461 230h3v1h-3zM460 231h5v1h-5zM460 232h5v1h-5zM461 233h3v1h-3zM463 234h3v1h-3zM462 235h5v1h-5zM462 236h5v1h-5zM463 237h3v1h-3zM467 238h3v1h-3zM466 239h5v1h-5zM466 240h5v1h-5zM467 241h3v1h-3zM471 242h3v1h-3zM470 243h5v1h-5zM470 244h5v1h-5zM471 245h3v1h-3zM475 246h3v1h-3zM474 247h5v1h-5zM474 248h5v1h-5zM475 249h3v1h-3zM479 249h3v1h-3zM478 250h5v1h-5zM478 251h5v1h-5zM479 252h3v1h-3zM482 253h3v1h-3zM481 254h5v1h-5zM481 255h5v1h-5zM482 256h3v1h-3zM485 257h3v1h-3zM484 258h5v1h-5zM484 259h5v1h-5zM485 260h3v1h-3zM488 261h3v1h-3zM487 262h5v1h-5zM487 263h5v1h-5zM488 264h3v1h-3zM491 265h3v1h-3zM490 266h5v1h-5zM490 267h5v1h-5zM491 268h3v1h-3zM496 269h3v1h-3zM495 270h5v1h-5zM495 271h5v1h-5zM496 272h3v1h-3zM499 273h3v1h-3zM498 274h5v1h-5zM498 275h5v1h-5zM499 276h3v1h-3zM502 277h3v1h-3zM501 278h5v1h-5zM501 279h5v1h-5zM502 280h3v1h-3zM505 281h3v1h-3zM504 282h5v1h-5zM504 283h5v1h-5zM505 284h3v1h-3zM508 285h3v1h-3zM507 286h5v1h-5zM507 287h5v1h-5zM508 288h3v1h-3zM511 289h3v1h-3zM510 290h5v1h-5zM510 291h5v1h-5zM511 292h3v1h-3zM513 293h3v1h-3zM512 294h5v1h-5zM512 295h5v1h-5zM513 296h3v1h-3zM515 297h3v1h-3zM514 298h5v1h-5zM514 299h5v1h-5zM515 300h3v1h-3zM516 301h3v1h-3zM515 302h5v1h-5zM515 303h5v1h-5zM516 304h3v1h-3zM515 305h3v1h-3zM514 306h5v1h-5zM514 307h5v1h-5zM515 308h3v1h-3zM513 309h3v1h-3zM512 310h5v1h-5zM512 311h5v1h-5zM513 312h3v1h-3zM508 313h3v1h-3zM507 314h5v1h-5zM507 315h5v1h-5zM508 316h3v1h-3zM503 317h3v1h-3zM502 318h5v1h-5zM502 319h5v1h-5zM503 320h3v1h-3zM499 321h3v1h-3zM498 322h5v1h-5zM498 323h5v1h-5zM499 324h3v1h-3zM494 325h3v1h-3zM493 326h5v1h-5zM493 327h5v1h-5zM494 328h3v1h-3zM490 329h3v1h-3zM489 330h5v1h-5zM489 331h5v1h-5zM490 332h3v1h-3zM485 332h3v1h-3zM484 333h5v1h-5zM484 334h5v1h-5zM485 335h3v1h-3zM482 336h3v1h-3zM481 337h5v1h-5zM481 338h5v1h-5zM482 339h3v1h-3zM479 340h3v1h-3zM478 341h5v1h-5zM478 342h5v1h-5zM479 343h3v1h-3z" fill="#000000"/></g>
<polyline points="437.5,105.2 428.0,109.2 429.7,113.1 429.7,117.1 429.7,121.0 429.7,125.0 429.8,128.9 430.0,132.9 433.8,136.8 430.0,140.8 435.0,144.7 430.6,148.7 431.2,152.7 432.5,156.6 431.5,160.6 431.2,164.5 428.8,168.5 430.0,172.4 430.0,176.4 430.3,180.3 430.3,184.3 430.3,188.2 430.3,192.2 430.3,196.1 430.3,200.1 430.3,204.0 430.3,208.0 430.3,212.0 430.3,215.9 430.3,219.9 430.3,223.8 430.3,227.8 430.3,231.7 430.3,235.7 430.3,239.6 430.3,243.6 430.3,247.5 430.3,251.5 430.3,255.4 430.3,259.4 430.3,263.3 430.3,267.3 430.4,271.2 430.4,275.2 430.4,279.2 430.4,283.1 430.4,287.1 430.5,291.0 430.5,295.0 430.5,298.9 430.5,302.9 430.5,306.8 430.5,310.8 430.5,314.7 430.5,318.7 428.8,322.6 427.6,326.6 430.0,330.5 431.0,334.5 426.6,338.4 425.0,342.4" fill="none" stroke="#ff0000" stroke-width="1"/>
<path d="M436 103h3v1h-3zM435 104h5v1h-5zM435 105h5v1h-5zM436 106h3v1h-3zM426 107h4v1h-4zM426 108h4v1h-4zM426 109h4v1h-4zM426 110h4v1h-4zM428 111h3v1h-3zM427 112h5v1h-5zM427 113h5v1h-5zM428 114h3v1h-3zM428 115h4v1h-4zM428 116h4v1h-4zM428 117h4v1h-4zM428 118h4v1h-4zM428 119h3v1h-3zM427 120h5v1h-5zM427 121h5v1h-5zM428 122h3v1h-3zM428 123h3v1h-3zM427 124h5v1h-5zM427 125h5v1h-5zM428 126h3v1h-3zM427 127h5v1h-5zM427 128h5v1h-5zM428 129h3v1h-3zM429 130h1v1h-1zM429 131h3v1h-3zM428 132h5v1h-5zM428 133h5v1h-5zM429 134h3v1h-3zM433 135h1v1h-1zM432 136h3v1h-3zM431 137h5v1h-5zM431 138h5v1h-5zM429 139h3v1h-3zM428 140h5v1h-5zM428 141h5v1h-5zM429 142h3v1h-3zM433 143h4v1h-4zM433 144h4v1h-4zM433 145h4v1h-4zM433 146h4v1h-4zM429 147h3v1h-3zM428 148h5v1h-5zM428 149h5v1h-5zM429 150h3v1h-3zM430 151h3v1h-3zM429 152h5v1h-5zM429 153h5v1h-5zM430 154h3v1h-3zM430 155h5v1h-5zM430 156h5v1h-5zM431 157h3v1h-3zM432 158h1v1h-1zM430 159h3v1h-3zM429 160h5v1h-5zM429 161h5v1h-5zM430 162h3v1h-3zM431 163h1v1h-1zM430 164h3v1h-3zM429 165h5v1h-5zM429 166h5v1h-5zM427 166h3v1h-3zM426 167h5v1h-5zM426 168h5v1h-5zM427 169h3v1h-3zM428 170h4v1h-4zM428 171h4v1h-4zM428 172h4v1h-4zM428 173h4v1h-4zM429 174h3v1h-3zM428 175h5v1h-5zM428 176h5v1h-5zM429 177h3v1h-3zM429 178h3v1h-3zM428 179h5v1h-5zM428 180h5v1h-5zM429 181h3v1h-3zM428 182h5v1h-5zM428 183h5v1h-5zM429 184h3v1h-3zM430 185h1v1h-1zM429 186h3v1h-3zM428 187h5v1h-5zM428 188h5v1h-5zM429 189h3v1h-3zM430 190h1v1h-1zM429 191h3v1h-3zM428 192h5v1h-5zM428 193h5v1h-5zM429 194h3v1h-3zM428 195h5v1h-5zM428 196h5v1h-5zM429 197h3v1h-3zM428 198h4v1h-4zM428 199h4v1h-4zM428 200h4v1h-4zM428 201h4v1h-4zM429 202h3v1h-3zM428 203h5v1h-5zM428 204h5v1h-5zM429 205h3v1h-3zM429 206h3v1h-3zM428 207h5v1h-5zM428 208h5v1h-5zM429 209h3v1h-3zM428 210h5v1h-5zM428 211h5v1h-5zM429 212h3v1h-3zM430 213h1v1h-1zM429 214h3v1h-3zM428 215h5v1h-5zM428 216h5v1h-5zM429 217h3v1h-3zM430 218h1v1h-1zM429 219h3v1h-3zM428 220h5v1h-5zM428 221h5v1h-5zM429 222h3v1h-3zM428 223h5v1h-5zM428 224h5v1h-5zM429 225h3v1h-3zM428 226h4v1h-4zM428 227h4v1h-4zM428 228h4v1h-4zM428 229h4v1h-4zM429 230h3v1h-3zM428 231h5v1h-5zM428 232h5v1h-5zM429 233h3v1h-3zM429 234h3v1h-3zM428 235h5v1h-5zM428 236h5v1h-5zM429 237h3v1h-3zM428 238h5v1h-5zM428 239h5v1h-5zM429 240h3v1h-3zM430 241h1v1h-1zM429 242h3v1h-3zM428 243h5v1h-5zM428 244h5v1h-5zM429 245h3v1h-3zM430 246h1v1h-1zM429 247h3v1h-3zM428 248h5v1h-5zM428 249h5v1h-5zM429 249h3v1h-3zM428 250h5v1h-5zM428 251h5v1h-5zM429 252h3v1h-3zM428 253h4v1h-4zM428 254h4v1h-4zM428 255h4v1h-4zM428 256h4v1h-4zM429 257h3v1h-3zM428 258h5v1h-5zM428 259h5v1h-5zM429 260h3v1h-3zM429 261h3v1h-3zM428 262h5v1h-5zM428 263h5v1h-5zM429 264h3v1h-3zM428 265h5v1h-5zM428 266h5v1h-5zM429 267h3v1h-3zM430 268h1v1h-1zM429 269h3v1h-3zM428 270h5v1h-5zM428 271h5v1h-5zM429 272h3v1h-3zM430 273h1v1h-1zM429 274h3v1h-3zM428 275h5v1h-5zM428 276h5v1h-5zM429 277h3v1h-3zM428 278h5v1h-5zM428 279h5v1h-5zM429 280h3v1h-3zM428 281h4v1h-4zM428 282h4v1h-4zM428 283h4v1h-4zM428 284h4v1h-4zM429 285h3v1h-3zM428 286h5v1h-5zM428 287h5v1h-5zM429 288h3v1h-3zM429 289h3v1h-3zM428 290h5v1h-5zM428 291h5v1h-5zM429 292h3v1h-3zM428 293h5v1h-5zM428 294h5v1h-5zM429 295h3v1h-3zM430 296h1v1h-1zM429 297h3v1h-3zM428 298h5v1h-5zM428 299h5v1h-5zM429 300h3v1h-3zM430 301h1v1h-1zM429 302h3v1h-3zM428 303h5v1h-5zM428 304h5v1h-5zM429 305h3v1h-3zM428 306h5v1h-5zM428 307h5v1h-5zM429 308h3v1h-3zM428 309h4v1h-4zM428 310h4v1h-4zM428 311h4v1h-4zM428 312h4v1h-4zM429 313h3v1h-3zM428 314h5v1h-5zM428 315h5v1h-5zM429 316h3v1h-3zM429 317h3v1h-3zM428 318h5v1h-5zM428 319h5v1h-5zM429 320h3v1h-3zM426 321h5v1h-5zM426 322h5v1h-5zM427 323h3v1h-3zM428 324h1v1h-1zM426 325h3v1h-3zM425 326h5v1h-5zM425 327h5v1h-5zM426 328h3v1h-3zM430 329h1v1h-1zM429 330h3v1h-3zM428 331h5v1h-5zM428 332h5v1h-5zM429 332h3v1h-3zM428 333h5v1h-5zM428 334h5v1h-5zM429 335h3v1h-3zM425 336h4v1h-4zM425 337h4v1h-4zM425 338h4v1h-4zM425 339h4v1h-4zM423 340h3v1h-3zM422 341h5v1h-5zM422 342h5v1h-5zM423 343h3v1h-3z" fill="#b04020"/>
<polyline points="578.0,105.2 574.5,109.2 571.2,113.1 572.0,117.1 573.0,121.0 573.8,125.0 572.5,128.9 572.5,132.9 577.0,136.8 580.5,140.8 574.5,144.7 573.8,148.7 570.5,152.7 576.2,156.6 576.2,160.6 575.5,164.5 576.2,168.5 575.5,172.4 572.5,176.4 571.2,180.3 570.5,184.3 570.5,188.2 570.5,192.2 570.5,196.1 570.5,200.1 570.5,204.0 570.5,208.0 570.5,212.0 570.5,215.9 570.5,219.9 570.5,223.8 570.5,227.8 570.5,231.7 570.4,235.7 570.4,239.6 570.4,243.6 570.4,247.5 570.4,251.5 570.4,255.4 570.4,259.4 570.4,263.3 570.4,267.3 570.4,271.2 570.5,275.2 570.5,279.2 570.6,283.1 570.7,287.1 570.8,291.0 570.9,295.0 571.0,298.9 571.1,302.9 571.2,306.8 573.0,310.8 570.8,314.7 572.9,318.7 574.0,322.6 574.4,326.6 574.6,330.5 574.6,334.5 574.3,338.4 574.0,342.4" fill="none" stroke="#000000" stroke-width="1"/>
<path d="M577 103h3v1h-3zM576 104h5v1h-5zM576 105h5v1h-5zM577 106h3v1h-3zM573 107h3v1h-3zM572 108h5v1h-5zM572 109h5v1h-5zM573 110h3v1h-3zM570 111h3v1h-3zM569 112h5v1h-5zM569 113h5v1h-5zM570 114h3v1h-3zM570 115h4v1h-4zM570 116h4v1h-4zM570 117h4v1h-4zM570 118h4v1h-4zM571 119h3v1h-3zM570 120h5v1h-5zM570 121h5v1h-5zM571 122h3v1h-3zM571 123h5v1h-5zM571 124h5v1h-5zM572 125h3v1h-3zM573 126h1v1h-1zM571 127h3v1h-3zM570 128h5v1h-5zM570 129h5v1h-5zM571 130h3v1h-3zM571 131h3v1h-3zM570 132h5v1h-5zM570 133h5v1h-5zM571 134h3v1h-3zM575 135h4v1h-4zM575 136h4v1h-4zM575 137h4v1h-4zM575 138h4v1h-4zM579 139h3v1h-3zM578 140h5v1h-5zM578 141h5v1h-5zM579 142h3v1h-3zM572 143h5v1h-5zM572 144h5v1h-5zM573 145h3v1h-3zM574 146h1v1h-1zM572 147h3v1h-3zM571 148h5v1h-5zM571 149h5v1h-5zM572 150h3v1h-3zM569 151h3v1h-3zM568 152h5v1h-5zM568 153h5v1h-5zM569 154h3v1h-3zM574 155h4v1h-4zM574 156h4v1h-4zM574 157h4v1h-4zM574 158h4v1h-4zM575 159h3v1h-3zM574 160h5v1h-5zM574 161h5v1h-5zM575 162h3v1h-3zM573 163h5v1h-5zM573 164h5v1h-5zM574 165h3v1h-3zM575 166h1v1h-1zM575 166h3v1h-3zM574 167h5v1h-5zM574 168h5v1h-5zM575 169h3v1h-3zM574 170h3v1h-3zM573 171h5v1h-5zM573 172h5v1h-5zM574 173h3v1h-3zM570 174h4v1h-4zM570 175h4v1h-4zM570 176h4v1h-4zM570 177h4v1h-4zM570 178h3v1h-3zM569 179h5v1h-5zM569 180h5v1h-5zM570 181h3v1h-3zM568 182h5v1h-5zM568 183h5v1h-5zM569 184h3v1h-3zM570 185h1v1h-1zM569 186h3v1h-3zM568 187h5v1h-5zM568 188h5v1h-5zM569 189h3v1h-3zM569 190h3v1h-3zM568 191h5v1h-5zM568 192h5v1h-5zM569 193h3v1h-3zM568 194h4v1h-4zM568 195h4v1h-4zM568 196h4v1h-4zM568 197h4v1h-4zM569 198h3v1h-3zM568 199h5v1h-5zM568 200h5v1h-5zM569 201h3v1h-3zM568 202h5v1h-5zM568 203h5v1h-5zM569 204h3v1h-3zM570 205h1v1h-1zM569 206h3v1h-3zM568 207h5v1h-5zM568 208h5v1h-5zM569 209h3v1h-3zM569 210h3v1h-3zM568 211h5v1h-5zM568 212h5v1h-5zM569 213h3v1h-3zM568 214h4v1h-4zM568 215h4v1h-4zM568 216h4v1h-4zM568 217h4v1h-4zM569 218h3v1h-3zM568 219h5v1h-5zM568 220h5v1h-5zM569 221h3v1h-3zM568 222h5v1h-5zM568 223h5v1h-5zM569 224h3v1h-3zM570 225h1v1h-1zM569 226h3v1h-3zM568 227h5v1h-5zM568 228h5v1h-5zM569 229h3v1h-3zM569 230h3v1h-3zM568 231h5v1h-5zM568 232h5v1h-5zM569 233h3v1h-3zM568 234h4v1h-4zM568 235h4v1h-4zM568 236h4v1h-4zM568 237h4v1h-4zM569 238h3v1h-3zM568 239h5v1h-5zM568 240h5v1h-5zM569 241h3v1h-3zM568 242h5v1h-5zM568 243h5v1h-5zM569 244h3v1h-3zM570 245h1v1h-1zM569 246h3v1h-3zM568 247h5v1h-5zM568 248h5v1h-5zM569 249h3v1h-3zM569 249h3v1h-3zM568 250h5v1h-5zM568 251h5v1h-5zM569 252h3v1h-3zM568 253h4v1h-4zM568 254h4v1h-4zM568 255h4v1h-4zM568 256h4v1h-4zM569 257h3v1h-3zM568 258h5v1h-5zM568 259h5v1h-5zM569 260h3v1h-3zM568 261h5v1h-5zM568 262h5v1h-5zM569 263h3v1h-3zM570 264h1v1h-1zM569 265h3v1h-3zM568 266h5v1h-5zM568 267h5v1h-5zM569 268h3v1h-3zM569 269h3v1h-3zM568 270h5v1h-5zM568 271h5v1h-5zM569 272h3v1h-3zM568 273h4v1h-4zM568 274h4v1h-4zM568 275h4v1h-4zM568 276h4v1h-4zM569 277h3v1h-3zM568 278h5v1h-5zM568 279h5v1h-5zM569 280h3v1h-3zM568 281h5v1h-5zM568 282h5v1h-5zM569 283h3v1h-3zM570 284h1v1h-1zM569 285h3v1h-3zM568 286h5v1h-5zM568 287h5v1h-5zM569 288h3v1h-3zM569 289h3v1h-3zM568 290h5v1h-5zM568 291h5v1h-5zM569 292h3v1h-3zM569 293h4v1h-4zM569 294h4v1h-4zM569 295h4v1h-4zM569 296h4v1h-4zM570 297h3v1h-3zM569 298h5v1h-5zM569 299h5v1h-5zM570 300h3v1h-3zM569 301h5v1h-5zM569 302h5v1h-5zM570 303h3v1h-3zM571 304h1v1h-1zM570 305h3v1h-3zM569 306h5v1h-5zM569 307h5v1h-5zM570 308h3v1h-3zM571 309h3v1h-3zM570 310h5v1h-5zM570 311h5v1h-5zM571 312h3v1h-3zM569 313h4v1h-4zM569 314h4v1h-4zM569 315h4v1h-4zM569 316h4v1h-4zM571 317h3v1h-3zM570 318h5v1h-5zM570 319h5v1h-5zM571 320h3v1h-3zM572 321h5v1h-5zM572 322h5v1h-5zM573 323h3v1h-3zM574 324h1v1h-1zM573 325h3v1h-3zM572 326h5v1h-5zM572 327h5v1h-5zM573 328h3v1h-3zM573 329h3v1h-3zM572 330h5v1h-5zM572 331h5v1h-5zM573 332h3v1h-3zM573 332h4v1h-4zM573 333h4v1h-4zM573 334h4v1h-4zM573 335h4v1h-4zM573 336h3v1h-3zM572 337h5v1h-5zM572 338h5v1h-5zM573 339h3v1h-3zM572 340h5v1h-5zM572 341h5v1h-5zM573 342h3v1h-3zM574 343h1v1h-1z" fill="#000000"/>
<polyline points="769.0,105.2 773.0,109.2 775.3,113.1 775.3,117.1 775.3,121.0 775.2,125.0 775.2,128.9 775.3,132.9 767.0,136.8 766.2,140.8 774.2,144.7 774.2,148.7 779.0,152.7 770.0,156.6 772.7,160.6 773.8,164.5 774.2,168.5 774.6,172.4 775.1,176.4 775.4,180.3 775.4,184.3 775.5,188.2 775.5,192.2 775.6,196.1 775.6,200.1 775.6,204.0 775.6,208.0 775.6,212.0 775.6,215.9 775.6,219.9 775.6,223.8 775.6,227.8 775.6,231.7 775.6,235.7 775.6,239.6 775.6,243.6 775.6,247.5 775.6,251.5 775.6,255.4 775.6,259.4 775.6,263.3 775.6,267.3 775.6,271.2 775.6,275.2 775.6,279.2 775.6,283.1 775.6,287.1 775.6,291.0 775.6,295.0 775.6,298.9 775.6,302.9 775.6,306.8 775.6,310.8 775.6,314.7 775.6,318.7 775.6,322.6 775.6,326.6 775.6,330.5 775.6,334.5 775.6,338.4 775.6,342.4" fill="none" stroke="#ff0000" stroke-width="1" clip-path="url(#c3)"/>
<g clip-path="url(#c3)"><path d="M767 103h4v1h-4zM767 104h4v1h-4zM767 105h4v1h-4zM767 106h4v1h-4zM771 107h4v1h-4zM771 108h4v1h-4zM771 109h4v1h-4zM771 110h4v1h-4zM774 111h3v1h-3zM773 112h5v1h-5zM773 113h5v1h-5zM774 114h3v1h-3zM773 115h5v1h-5zM773 116h5v1h-5zM774 117h3v1h-3zM775 118h1v1h-1zM774 119h3v1h-3zM773 120h5v1h-5zM773 121h5v1h-5zM774 122h3v1h-3zM773 123h4v1h-4zM773 124h4v1h-4zM773 125h4v1h-4zM773 126h4v1h-4zM774 127h3v1h-3zM773 128h5v1h-5zM773 129h5v1h-5zM774 130h3v1h-3zM774 131h3v1h-3zM773 132h5v1h-5zM773 133h5v1h-5zM774 134h3v1h-3zM764 135h5v1h-5zM764 136h5v1h-5zM765 137h3v1h-3zM766 138h1v1h-1zM765 139h3v1h-3zM764 140h5v1h-5zM764 141h5v1h-5zM765 142h3v1h-3zM772 143h4v1h-4zM772 144h4v1h-4zM772 145h4v1h-4zM772 146h4v1h-4zM773 147h3v1h-3zM772 148h5v1h-5zM772 149h5v1h-5zM773 150h3v1h-3zM777 151h3v1h-3zM776 152h5v1h-5zM776 153h5v1h-5zM777 154h3v1h-3zM768 155h5v1h-5zM768 156h5v1h-5zM769 157h3v1h-3zM770 158h1v1h-1zM771 159h3v1h-3zM770 160h5v1h-5zM770 161h5v1h-5zM771 162h3v1h-3zM772 163h4v1h-4zM772 164h4v1h-4zM772 165h4v1h-4zM772 166h4v1h-4zM773 166h3v1h-3zM772 167h5v1h-5zM772 168h5v1h-5zM773 169h3v1h-3zM773 170h3v1h-3zM772 171h5v1h-5zM772 172h5v1h-5zM773 173h3v1h-3zM773 174h5v1h-5zM773 175h5v1h-5zM774 176h3v1h-3zM775 177h1v1h-1zM774 178h3v1h-3zM773 179h5v1h-5zM773 180h5v1h-5zM774 181h3v1h-3zM773 182h4v1h-4zM773 183h4v1h-4zM773 184h4v1h-4zM773 185h4v1h-4zM774 186h3v1h-3zM773 187h5v1h-5zM773 188h5v1h-5zM774 189h3v1h-3zM774 190h3v1h-3zM773 191h5v1h-5zM773 192h5v1h-5zM774 193h3v1h-3zM773 194h5v1h-5zM773 195h5v1h-5zM774 196h3v1h-3zM775 197h1v1h-1zM774 198h3v1h-3zM773 199h5v1h-5zM773 200h5v1h-5zM774 201h3v1h-3zM774 202h4v1h-4zM774 203h4v1h-4zM774 204h4v1h-4zM774 205h4v1h-4zM774 206h3v1h-3zM773 207h5v1h-5zM773 208h5v1h-5zM774 209h3v1h-3zM774 210h3v1h-3zM773 211h5v1h-5zM773 212h5v1h-5zM774 213h3v1h-3zM773 214h5v1h-5zM773 215h5v1h-5zM774 216h3v1h-3zM775 217h1v1h-1zM774 218h3v1h-3zM773 219h5v1h-5zM773 220h5v1h-5zM774 221h3v1h-3zM774 222h4v1h-4zM774 223h4v1h-4zM774 224h4v1h-4zM774 225h4v1h-4zM774 226h3v1h-3zM773 227h5v1h-5zM773 228h5v1h-5zM774 229h3v1h-3zM774 230h3v1h-3zM773 231h5v1h-5zM773 232h5v1h-5zM774 233h3v1h-3zM773 234h5v1h-5zM773 235h5v1h-5zM774 236h3v1h-3zM775 237h1v1h-1zM774 238h3v1h-3zM773 239h5v1h-5zM773 240h5v1h-5zM774 241h3v1h-3zM774 242h4v1h-4zM774 243h4v1h-4zM774 244h4v1h-4zM774 245h4v1h-4zM774 246h3v1h-3zM773 247h5v1h-5zM773 248h5v1h-5zM774 249h3v1h-3zM774 249h3v1h-3zM773 250h5v1h-5zM773 251h5v1h-5zM774 252h3v1h-3zM773 253h5v1h-5zM773 254h5v1h-5zM774 255h3v1h-3zM775 256h1v1h-1zM774 257h3v1h-3zM773 258h5v1h-5zM773 259h5v1h-5zM774 260h3v1h-3zM774 261h4v1h-4zM774 262h4v1h-4zM774 263h4v1h-4zM774 264h4v1h-4zM774 265h3v1h-3zM773 266h5v1h-5zM773 267h5v1h-5zM774 268h3v1h-3zM774 269h3v1h-3zM773 270h5v1h-5zM773 271h5v1h-5zM774 272h3v1h-3zM773 273h5v1h-5zM773 274h5v1h-5zM774 275h3v1h-3zM775 276h1v1h-1zM774 277h3v1h-3zM773 278h5v1h-5zM773 279h5v1h-5zM774 280h3v1h-3zM774 281h4v1h-4zM774 282h4v1h-4zM774 283h4v1h-4zM774 284h4v1h-4zM774 285h3v1h-3zM773 286h5v1h-5zM773 287h5v1h-5zM774 288h3v1h-3zM774 289h3v1h-3zM773 290h5v1h-5zM773 291h5v1h-5zM774 292h3v1h-3zM773 293h5v1h-5zM773 294h5v1h-5zM774 295h3v1h-3zM775 296h1v1h-1zM774 297h3v1h-3zM773 298h5v1h-5zM773 299h5v1h-5zM774 300h3v1h-3zM774 301h4v1h-4zM774 302h4v1h-4zM774 303h4v1h-4zM774 304h4v1h-4zM774 305h3v1h-3zM773 306h5v1h-5zM773 307h5v1h-5zM774 308h3v1h-3zM774 309h3v1h-3zM773 310h5v1h-5zM773 311h5v1h-5zM774 312h3v1h-3zM773 313h5v1h-5zM773 314h5v1h-5zM774 315h3v1h-3zM775 316h1v1h-1zM774 317h3v1h-3zM773 318h5v1h-5zM773 319h5v1h-5zM774 320h3v1h-3zM774 321h4v1h-4zM774 322h4v1h-4zM774 323h4v1h-4zM774 324h4v1h-4zM774 325h3v1h-3zM773 326h5v1h-5zM773 327h5v1h-5zM774 328h3v1h-3zM774 329h3v1h-3zM773 330h5v1h-5zM773 331h5v1h-5zM774 332h3v1h-3zM773 332h5v1h-5zM773 333h5v1h-5zM774 334h3v1h-3zM775 335h1v1h-1zM774 336h3v1h-3zM773 337h5v1h-5zM773 338h5v1h-5zM774 339h3v1h-3zM774 340h4v1h-4zM774 341h4v1h-4zM774 342h4v1h-4zM774 343h4v1h-4z" fill="#b04020"/></g>
<rect x="776" y="71" width="1" height="281" fill="#000000"/>
<rect x="568" y="78" width="1" height="274" fill="#000000"/>
<text transform="translate(242.50 15.5) scale(1.163 1)" fill="#000000" font-size="12.5" textLength="160.33" lengthAdjust="spacing">VAD_08_20150707_060612,</text>
<text transform="translate(435.90 15.5) scale(1.180 1)" fill="#000000" font-size="12.5" textLength="103.22" lengthAdjust="spacing">20150707.060630</text>
<text transform="translate(103.10 32) scale(1.126 1)" fill="#000000" font-size="12.5" textLength="46.55" lengthAdjust="spacing">Nbeams</text>
<text transform="translate(163.50 32) scale(1.180 1)" fill="#000000" font-size="12.5">=</text>
<text transform="translate(180.50 32) scale(1.180 1)" fill="#000000" font-size="12.5" textLength="10.51" lengthAdjust="spacing">8,</text>
<text transform="translate(199.90 32) scale(1.091 1)" fill="#000000" font-size="12.5" textLength="51.42" lengthAdjust="spacing">Elevation</text>
<text transform="translate(265.10 32) scale(1.125 1)" fill="#000000" font-size="12.5" textLength="30.58" lengthAdjust="spacing">angle</text>
<text transform="translate(307.50 32) scale(1.180 1)" fill="#000000" font-size="12.5">=</text>
<text transform="translate(323.90 32) scale(1.146 1)" fill="#000000" font-size="12.5" textLength="32.80" lengthAdjust="spacing">70.0°,</text>
<text transform="translate(369.10 32) scale(1.151 1)" fill="#000000" font-size="12.5" textLength="26.40" lengthAdjust="spacing">scan</text>
<text transform="translate(406.50 32) scale(1.173 1)" fill="#000000" font-size="12.5" textLength="45.17" lengthAdjust="spacing">duration</text>
<text transform="translate(467.50 32) scale(1.180 1)" fill="#000000" font-size="12.5">=</text>
<text transform="translate(485.10 32) scale(1.167 1)" fill="#000000" font-size="12.5" textLength="24.33" lengthAdjust="spacing">31.0</text>
<text transform="translate(520.50 32) scale(1.131 1)" fill="#000000" font-size="12.5" textLength="9.72" lengthAdjust="spacing">s,</text>
<text transform="translate(539.10 32) scale(1.000 1)" fill="#000000" font-size="12.5" textLength="26.39" lengthAdjust="spacing">SNR</text>
<text transform="translate(572.00 32) scale(1.124 1)" fill="#000000" font-size="12.5" textLength="55.58" lengthAdjust="spacing">Threshold</text>
<text transform="translate(642.10 32) scale(1.180 1)" fill="#000000" font-size="12.5">=</text>
<text transform="translate(659.50 32) scale(1.173 1)" fill="#000000" font-size="12.5" textLength="31.28" lengthAdjust="spacing">0.008</text>
<text transform="translate(104.50 53) scale(1.001 1)" fill="#ff0000" font-size="12.5" textLength="28.48" lengthAdjust="spacing">Wind</text>
<text transform="translate(140.75 53) scale(1.161 1)" fill="#ff0000" font-size="12.5" textLength="49.32" lengthAdjust="spacing">Direction</text>
<text transform="translate(205.00 53) scale(1.180 1)" fill="#ff0000" font-size="12.5" textLength="30.08" lengthAdjust="spacing">(deg)</text>
<text transform="translate(355.40 53) scale(1.180 1)" fill="#ff0000" font-size="12.5" textLength="41.02" lengthAdjust="spacing">Vertical</text>
<text transform="translate(410.00 53) scale(1.180 1)" fill="#ff0000" font-size="12.5" textLength="42.12" lengthAdjust="spacing">velocity</text>
<text transform="translate(465.20 53) scale(1.109 1)" fill="#ff0000" font-size="12.5" textLength="20.83" lengthAdjust="spacing">(ms</text>
<text transform="translate(503.50 53) scale(1.180 1)" fill="#ff0000" font-size="12.5">)</text>
<text transform="translate(489.50 48) scale(1.180 1)" fill="#ff0000" font-size="8.5" textLength="11.02" lengthAdjust="spacing">−1</text>
<text transform="translate(636.90 53) scale(1.138 1)" fill="#ff0000" font-size="12.5" textLength="61.14" lengthAdjust="spacing">Correlation</text>
<text transform="translate(108.25 385) scale(0.992 1)" fill="#000000" font-size="12.5" textLength="28.48" lengthAdjust="spacing">Wind</text>
<text transform="translate(144.50 385) scale(1.134 1)" fill="#000000" font-size="12.5" textLength="36.15" lengthAdjust="spacing">Speed</text>
<text transform="translate(191.50 385) scale(1.104 1)" fill="#000000" font-size="12.5" textLength="20.83" lengthAdjust="spacing">(ms</text>
<text transform="translate(229.50 385) scale(1.141 1)" fill="#000000" font-size="12.5">)</text>
<text transform="translate(215.50 380) scale(1.180 1)" fill="#000000" font-size="8.5" textLength="11.02" lengthAdjust="spacing">−1</text>
<text transform="translate(419.00 385) scale(1.023 1)" fill="#000000" font-size="12.5" textLength="26.39" lengthAdjust="spacing">SNR</text>
<text transform="translate(620.75 385) scale(1.146 1)" fill="#000000" font-size="12.5" textLength="48.64" lengthAdjust="spacing">Residual</text>
<text transform="translate(682.50 385) scale(1.104 1)" fill="#000000" font-size="12.5" textLength="20.83" lengthAdjust="spacing">(ms</text>
<text transform="translate(720.50 385) scale(1.057 1)" fill="#000000" font-size="12.5">)</text>
<text transform="translate(706.50 380) scale(1.180 1)" fill="#000000" font-size="8.5" textLength="11.02" lengthAdjust="spacing">−1</text>
<text transform="translate(585.00 395.4) scale(1.180 1)" fill="#000000" font-size="8.3" textLength="14.83" lengthAdjust="spacing">Plot</text>
<text transform="translate(605.50 395.4) scale(1.180 1)" fill="#000000" font-size="8.3" textLength="32.88" lengthAdjust="spacing">created</text>
<text transform="translate(647.70 395.4) scale(1.127 1)" fill="#000000" font-size="8.3" textLength="9.23" lengthAdjust="spacing">on</text>
<text transform="translate(663.40 395.4) scale(1.035 1)" fill="#000000" font-size="8.3" textLength="16.14" lengthAdjust="spacing">Mon</text>
<text transform="translate(685.40 395.4) scale(1.180 1)" fill="#000000" font-size="8.3" textLength="13.64" lengthAdjust="spacing">Oct</text>
<text transform="translate(706.00 395.4) scale(1.062 1)" fill="#000000" font-size="8.3" textLength="9.23" lengthAdjust="spacing">12</text>
<text transform="translate(722.00 395.4) scale(1.180 1)" fill="#000000" font-size="8.3" textLength="38.56" lengthAdjust="spacing">20:39:20</text>
<text transform="translate(772.00 395.4) scale(1.100 1)" fill="#000000" font-size="8.3" textLength="18.46" lengthAdjust="spacing">2015</text>
<text transform="translate(44.50 65.5) scale(1.151 1)" fill="#ff0000" font-size="12.5">0</text>
<text transform="translate(105.39 65.5) scale(1.151 1)" fill="#ff0000" font-size="12.5" textLength="20.86" lengthAdjust="spacing">100</text>
<text transform="translate(174.28 65.5) scale(1.151 1)" fill="#ff0000" font-size="12.5" textLength="20.86" lengthAdjust="spacing">200</text>
<text transform="translate(243.17 65.5) scale(1.151 1)" fill="#ff0000" font-size="12.5" textLength="20.86" lengthAdjust="spacing">300</text>
<text transform="translate(313.50 65.5) scale(1.180 1)" fill="#ff0000" font-size="12.5" textLength="22.88" lengthAdjust="spacing">−10</text>
<text transform="translate(369.50 65.5) scale(1.180 1)" fill="#ff0000" font-size="12.5" textLength="16.10" lengthAdjust="spacing">−5</text>
<text transform="translate(428.50 65.5) scale(1.151 1)" fill="#ff0000" font-size="12.5">0</text>
<text transform="translate(480.50 65.5) scale(1.151 1)" fill="#ff0000" font-size="12.5">5</text>
<text transform="translate(528.50 65.5) scale(1.151 1)" fill="#ff0000" font-size="12.5" textLength="13.90" lengthAdjust="spacing">10</text>
<text transform="translate(558.35 65.5) scale(1.168 1)" fill="#ff0000" font-size="12.5" textLength="17.38" lengthAdjust="spacing">0.0</text>
<text transform="translate(599.95 65.5) scale(1.168 1)" fill="#ff0000" font-size="12.5" textLength="17.38" lengthAdjust="spacing">0.2</text>
<text transform="translate(641.55 65.5) scale(1.168 1)" fill="#ff0000" font-size="12.5" textLength="17.38" lengthAdjust="spacing">0.4</text>
<text transform="translate(683.15 65.5) scale(1.168 1)" fill="#ff0000" font-size="12.5" textLength="17.38" lengthAdjust="spacing">0.6</text>
<text transform="translate(724.75 65.5) scale(1.168 1)" fill="#ff0000" font-size="12.5" textLength="17.38" lengthAdjust="spacing">0.8</text>
<text transform="translate(766.35 65.5) scale(1.168 1)" fill="#ff0000" font-size="12.5" textLength="17.38" lengthAdjust="spacing">1.0</text>
<text transform="translate(44.50 369.2) scale(1.151 1)" fill="#000000" font-size="12.5">0</text>
<text transform="translate(106.50 369.2) scale(1.151 1)" fill="#000000" font-size="12.5">5</text>
<text transform="translate(164.50 369.2) scale(1.151 1)" fill="#000000" font-size="12.5" textLength="13.90" lengthAdjust="spacing">10</text>
<text transform="translate(226.50 369.2) scale(1.151 1)" fill="#000000" font-size="12.5" textLength="13.90" lengthAdjust="spacing">15</text>
<text transform="translate(288.50 369.2) scale(1.151 1)" fill="#000000" font-size="12.5" textLength="13.90" lengthAdjust="spacing">20</text>
<text transform="translate(310.35 369.2) scale(1.160 1)" fill="#000000" font-size="12.5" textLength="31.28" lengthAdjust="spacing">0.001</text>
<text transform="translate(362.35 369.2) scale(1.160 1)" fill="#000000" font-size="12.5" textLength="31.28" lengthAdjust="spacing">0.010</text>
<text transform="translate(414.35 369.2) scale(1.160 1)" fill="#000000" font-size="12.5" textLength="31.28" lengthAdjust="spacing">0.100</text>
<text transform="translate(466.35 369.2) scale(1.160 1)" fill="#000000" font-size="12.5" textLength="31.28" lengthAdjust="spacing">1.000</text>
<text transform="translate(514.35 369.2) scale(1.159 1)" fill="#000000" font-size="12.5" textLength="38.23" lengthAdjust="spacing">10.000</text>
<text transform="translate(564.50 369.2) scale(1.151 1)" fill="#000000" font-size="12.5">0</text>
<text transform="translate(606.10 369.2) scale(1.151 1)" fill="#000000" font-size="12.5">2</text>
<text transform="translate(647.70 369.2) scale(1.151 1)" fill="#000000" font-size="12.5">4</text>
<text transform="translate(689.30 369.2) scale(1.151 1)" fill="#000000" font-size="12.5">6</text>
<text transform="translate(730.90 369.2) scale(1.151 1)" fill="#000000" font-size="12.5">8</text>
<text transform="translate(768.50 369.2) scale(1.151 1)" fill="#000000" font-size="12.5" textLength="13.90" lengthAdjust="spacing">10</text>
<text transform="translate(24.20 80) scale(1.168 1)" fill="#000000" font-size="12.5" textLength="17.38" lengthAdjust="spacing">2.0</text>
<text transform="translate(24.20 146) scale(1.168 1)" fill="#000000" font-size="12.5" textLength="17.38" lengthAdjust="spacing">1.5</text>
<text transform="translate(24.20 216) scale(1.168 1)" fill="#000000" font-size="12.5" textLength="17.38" lengthAdjust="spacing">1.0</text>
<text transform="translate(24.20 286) scale(1.168 1)" fill="#000000" font-size="12.5" textLength="17.38" lengthAdjust="spacing">0.5</text>
<text transform="translate(24.20 351.5) scale(1.168 1)" fill="#000000" font-size="12.5" textLength="17.38" lengthAdjust="spacing">0.0</text>
<text transform="translate(14 249) rotate(-90) scale(1.180 1)" fill="#000000" font-size="12.5" textLength="63.56" lengthAdjust="spacing">z (km AGL)</text>
</svg>
</body></html>
